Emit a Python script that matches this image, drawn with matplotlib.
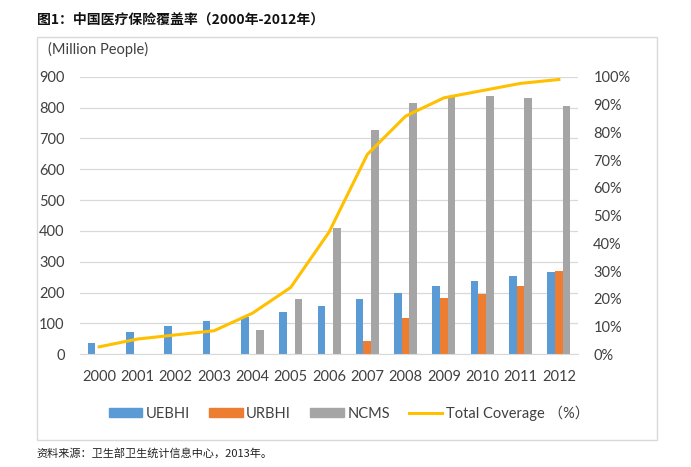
import numpy as np
import matplotlib
matplotlib.use("Agg")
import matplotlib.pyplot as plt
from matplotlib.patches import Rectangle, Patch
from matplotlib.lines import Line2D

plt.rcParams['font.family'] = ['Lato', 'Noto Sans CJK SC', 'DejaVu Sans']

years = ['2000', '2001', '2002', '2003', '2004', '2005', '2006',
         '2007', '2008', '2009', '2010', '2011', '2012']
uebhi = [37, 72, 91, 108, 122, 137, 157, 180, 200, 220, 237, 253, 266]
urbhi = [0, 0, 0, 0, 0, 0, 0, 43, 119, 184, 195, 220, 271]
ncms = [0, 0, 0, 0, 80, 179, 410, 727, 814, 833, 836, 832, 805]
coverage = [2.7, 5.5, 7.0, 8.5, 14.8, 24.1, 44.0, 72.0, 85.8, 92.4, 95.0, 97.6, 99.0]

c_blue = '#5B9BD5'
c_orange = '#ED7D31'
c_gray = '#A5A5A5'
c_yellow = '#FFC000'
txt = '#404040'

fig = plt.figure(figsize=(6.91, 4.67), dpi=100)

# outer chart frame
fig.patches.append(Rectangle((0.0535, 0.0578), 0.898, 0.8636, transform=fig.transFigure,
                             fill=False, edgecolor='#D9D9D9', lw=1.0))

ax = fig.add_axes([0.1158, 0.2413, 0.7207, 0.5944])
x = np.arange(len(years))
w = 0.2
ax.bar(x - w, uebhi, w, color=c_blue, zorder=2)
ax.bar(x, urbhi, w, color=c_orange, zorder=2)
ax.bar(x + w, ncms, w, color=c_gray, zorder=2)

ax.set_xlim(-0.5, len(years) - 0.5)
ax.set_ylim(0, 900)
ax.set_yticks(range(0, 901, 100))
ax.set_xticks(x)
ax.set_xticklabels(years)
ax.yaxis.grid(True, color='#D9D9D9', lw=0.9, zorder=0)
ax.set_axisbelow(True)
for s in ['top', 'left', 'right']:
    ax.spines[s].set_visible(False)
ax.spines['bottom'].set_color('#D9D9D9')
ax.tick_params(axis='both', length=0, labelsize=10.5, colors=txt)
ax.tick_params(axis='y', pad=11)
ax.tick_params(axis='x', pad=11)

ax2 = ax.twinx()
ax2.plot(x, coverage, color=c_yellow, lw=2.2, zorder=3)
ax2.set_ylim(0, 100)
ax2.set_yticks(range(0, 101, 10))
ax2.set_yticklabels([f'{v}%' for v in range(0, 101, 10)])
for s in ax2.spines.values():
    s.set_visible(False)
ax2.tick_params(axis='y', length=0, labelsize=10.5, colors=txt, pad=11)

fig.text(0.0695, 0.895, '(Million People)', fontsize=10.5, color=txt, va='center')
fig.text(0.0535, 0.957, '图1：中国医疗保险覆盖率（2000年-2012年）', fontsize=10,
         fontweight='bold', color='#111111', va='center',
         family=['Noto Sans CJK SC', 'DejaVu Sans'])
fig.text(0.0535, 0.03, '资料来源：卫生部卫生统计信息中心，2013年。', fontsize=8,
         color='#222222', va='center', family=['Noto Sans CJK SC', 'DejaVu Sans'])

handles = [Patch(color=c_blue), Patch(color=c_orange), Patch(color=c_gray),
           Line2D([], [], color=c_yellow, lw=2.2)]
labels = ['UEBHI', 'URBHI', 'NCMS', 'Total Coverage （%）']
fig.legend(handles, labels, loc='center', bbox_to_anchor=(0.505, 0.116), ncol=4,
           frameon=False, fontsize=10.5, labelcolor=txt, handlelength=2.3,
           handletextpad=0.25, columnspacing=1.3, handleheight=0.6)

fig.savefig('out.png', dpi=100)
